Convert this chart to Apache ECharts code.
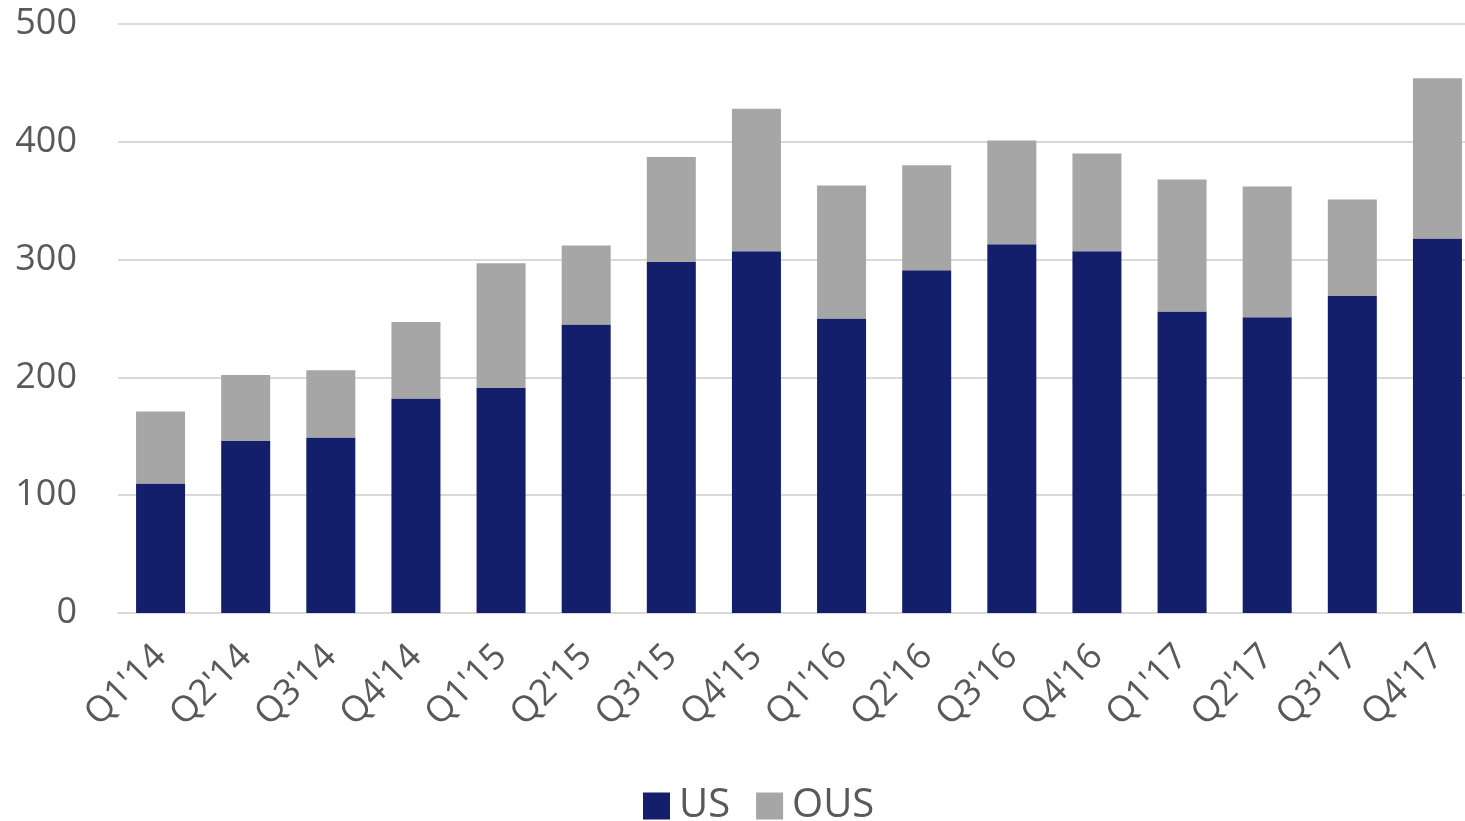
<!DOCTYPE html>
<html><head><meta charset="utf-8">
<script src="https://cdn.jsdelivr.net/npm/echarts@6/dist/echarts.min.js"></script>
<style>html,body{margin:0;padding:0;background:#fff;overflow:hidden}#c{width:1480px;height:821px}</style>
</head><body><div id="c"></div>
<script>
var categories = ["Q1'14","Q2'14","Q3'14","Q4'14","Q1'15","Q2'15","Q3'15","Q4'15","Q1'16","Q2'16","Q3'16","Q4'16","Q1'17","Q2'17","Q3'17","Q4'17"];
var usValues  = [110,146,149,182,191,245,298,307,250,291,313,307,256,251,269,318];
var ousValues = [61,56,57,65,106,67,89,121,113,89,88,83,112,111,82,136];
var yTicks = [0,100,200,300,400,500];

var chart = echarts.init(document.getElementById('c'));
var font = "'Open Sans', 'Liberation Sans', sans-serif";
chart.setOption({
  animation: false,
  textStyle: {fontFamily: font},
  grid: {left: 118, top: 24, right: 0, height: 589, containLabel: false},
  legend: {
    bottom: -10, left: 638,
    itemWidth: 27, itemHeight: 27, itemGap: 26,
    icon: 'rect',
    textStyle: {fontSize: 40, color: '#595959', fontFamily: font, padding: [0,0,0,4]},
    data: ['US','OUS']
  },
  xAxis: {
    type: 'category', data: categories,
    axisLine: {lineStyle: {color: '#D9D9D9', width: 2}},
    axisTick: {show: false},
    axisLabel: {rotate: 45, fontSize: 36, color: '#595959', margin: 38, fontFamily: font}
  },
  yAxis: {
    type: 'value', min: yTicks[0], max: yTicks[yTicks.length-1], interval: 100,
    axisLine: {show: false}, axisTick: {show: false},
    splitLine: {lineStyle: {color: '#D9D9D9', width: 2}},
    axisLabel: {fontSize: 36, color: '#595959', margin: 41, fontFamily: font}
  },
  series: [
    {name: 'US', type: 'bar', stack: 'a', data: usValues, barWidth: 49,
     itemStyle: {color: '#131F6B'}},
    {name: 'OUS', type: 'bar', stack: 'a', data: ousValues, barWidth: 49,
     itemStyle: {color: '#A6A6A6'}}
  ]
});
</script></body></html>
